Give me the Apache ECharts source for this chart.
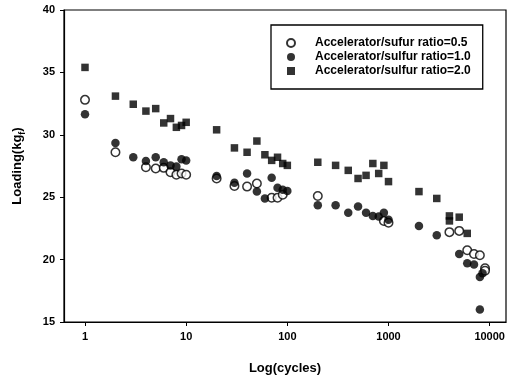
<!DOCTYPE html>
<html>
<head>
<meta charset="utf-8">
<script src="https://cdn.jsdelivr.net/npm/echarts@6/dist/echarts.min.js"></script>
<style>
  html, body { margin: 0; padding: 0; background: #fff; }
  #chart { width: 518px; height: 380px; }
</style>
</head>
<body>
<div id="chart"></div>
<script>
// [cycles, loading kgf]
var seriesNames = [
  'Accelerator/sufur ratio=0.5',
  'Accelerator/sulfur ratio=1.0',
  'Accelerator/sulfur ratio=2.0'
]

var ratio05 = [
  [1, 32.8], [2, 28.6], [4, 27.4], [5, 27.3], [6, 27.35], [7, 27.0], [8, 26.8], [9, 26.9], [10, 26.8],
  [20, 26.5], [30, 25.9], [40, 25.85], [50, 26.1], [70, 24.95], [80, 24.95], [90, 25.2],
  [200, 25.1], [900, 23.1], [1000, 22.95],
  [4000, 22.2], [5000, 22.3], [6000, 20.75], [7000, 20.45], [8000, 20.35], [9000, 19.3], [9000, 19.1]
]

var ratio10 = [
  [1, 31.65], [2, 29.35], [3, 28.2], [4, 27.9], [5, 28.2], [6, 27.8], [7, 27.55], [8, 27.45], [9, 28.05], [10, 27.95],
  [20, 26.7], [30, 26.15], [40, 26.9], [50, 25.45], [60, 24.9], [70, 26.55], [80, 25.75], [90, 25.6], [100, 25.5],
  [200, 24.35], [300, 24.35], [400, 23.75], [500, 24.25], [600, 23.75], [700, 23.5], [800, 23.45], [900, 23.75], [1000, 23.2],
  [2000, 22.7], [3000, 21.95], [5000, 20.45], [6000, 19.7], [7000, 19.6],
  [8000, 18.6], [8500, 18.9], [8000, 16.0]
]

var ratio20 = [
  [1, 35.4], [2, 33.1], [3, 32.45], [4, 31.9], [5, 32.1], [6, 30.95], [7, 31.3], [8, 30.6], [9, 30.75], [10, 31.0],
  [20, 30.4], [30, 28.95], [40, 28.6], [50, 29.5], [60, 28.4], [70, 27.95], [80, 28.2], [90, 27.7], [100, 27.55],
  [200, 27.8], [300, 27.55], [400, 27.15], [500, 26.5], [600, 26.75], [700, 27.7], [800, 26.9], [900, 27.55], [1000, 26.25],
  [2000, 25.45], [3000, 24.9], [4000, 23.5], [4000, 23.1], [5000, 23.4], [6000, 22.1]
]

var yTicks = [15, 20, 25, 30, 35, 40]

var chart = echarts.init(document.getElementById('chart'))

var font = 'Liberation Sans, Arial, sans-serif'

chart.setOption({
  backgroundColor: '#fff',
  animation: false,
  textStyle: { fontFamily: font, color: '#000' },
  grid: {
    left: 64,
    top: 10,
    width: 442,
    height: 313,
    show: true,
    borderColor: '#000',
    borderWidth: 1.2
  },
  legend: {
    orient: 'vertical',
    left: 271,
    top: 25,
    padding: [12, 12, 12, 15],
    itemGap: 2,
    itemWidth: 8,
    itemHeight: 8,
    borderColor: '#000',
    borderWidth: 1.3,
    data: seriesNames,
    textStyle: {
      fontFamily: font,
      fontSize: 12,
      fontWeight: 'bold',
      color: '#000',
      lineHeight: 12,
      padding: [0, 0, 0, 15]
    }
  },
  xAxis: {
    type: 'log',
    logBase: 10,
    min: 0.62,
    max: 14500,
    name: 'Log(cycles)',
    nameLocation: 'middle',
    nameGap: 40,
    nameTextStyle: { fontFamily: font, fontSize: 13, fontWeight: 'bold', color: '#000' },
    axisLine: { lineStyle: { color: '#000', width: 1.2 } },
    axisTick: { show: true, length: 4, inside: false, lineStyle: { color: '#000' } },
    axisLabel: {
      margin: 9,
      fontFamily: font,
      fontSize: 11,
      fontWeight: 'bold',
      color: '#000',
      showMinLabel: false,
      showMaxLabel: false,
      formatter: function(v) { return String(Math.round(v)) }
    },
    splitLine: { show: false },
    minorTick: { show: false }
  },
  yAxis: {
    type: 'value',
    min: yTicks[0],
    max: yTicks[yTicks.length - 1],
    interval: 5,
    name: '{a|Loading(kg}{s|f}{a|)}',
    nameLocation: 'middle',
    nameGap: 37,
    nameTextStyle: {
      rich: {
        a: { fontFamily: font, fontSize: 13, fontWeight: 'bold', color: '#000', verticalAlign: 'bottom', padding: [0, 0, 3, 0] },
        s: { fontFamily: font, fontSize: 9, fontWeight: 'bold', color: '#000', verticalAlign: 'bottom' }
      }
    },
    axisLine: { show: true, lineStyle: { color: '#000', width: 1.2 } },
    axisTick: { show: true, length: 4, lineStyle: { color: '#000' } },
    axisLabel: { margin: 9, fontFamily: font, fontSize: 11, fontWeight: 'bold', color: '#000' },
    splitLine: { show: false }
  },
  series: [
    {
      name: seriesNames[0],
      type: 'scatter',
      symbol: 'circle',
      symbolSize: 8.5,
      itemStyle: { color: '#fff', borderColor: '#000', borderWidth: 1.5 },
      data: ratio05
    },
    {
      name: seriesNames[1],
      type: 'scatter',
      symbol: 'circle',
      symbolSize: 8.5,
      itemStyle: { color: '#000' },
      data: ratio10
    },
    {
      name: seriesNames[2],
      type: 'scatter',
      symbol: 'rect',
      symbolSize: 7.5,
      itemStyle: { color: '#000' },
      data: ratio20
    }
  ]
})
</script>
</body>
</html>
